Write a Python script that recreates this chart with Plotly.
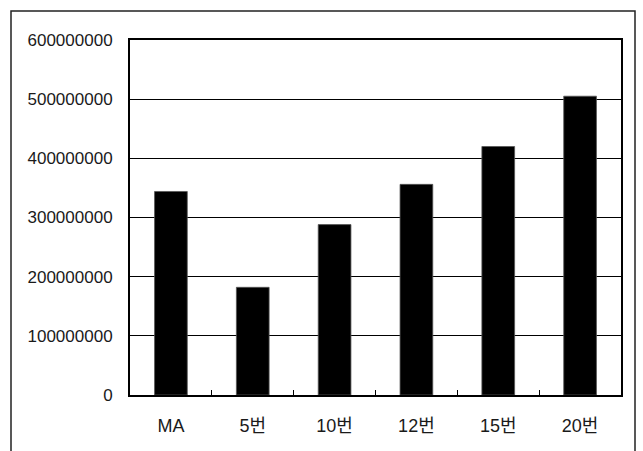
import plotly.graph_objects as go

categories = ["MA", "5번", "10번", "12번", "15번", "20번"]
values = [344000000, 182000000, 288000000, 356000000, 420000000, 505000000]
y_ticks = [0, 100000000, 200000000, 300000000, 400000000, 500000000, 600000000]

W, H = 643, 451
L, R, T, B = 130, 621, 40, 395

fig = go.Figure(go.Bar(
    x=categories, y=values,
    marker=dict(color="black", line=dict(color="#555555", width=0.8)),
    width=0.4,
))

def px(x):
    return (x - L) / (R - L)

def py(y):
    return (B - y) / (B - T)

fig.add_shape(type="rect", xref="paper", yref="paper",
              x0=px(11), x1=px(635), y0=py(470), y1=py(11),
              line=dict(color="#222222", width=1.5), layer="below")

font = dict(family="Liberation Sans, Arial, Noto Sans CJK KR", size=17, color="#1a1a1a")

fig.update_layout(
    width=W, height=H,
    margin=dict(l=L, r=W - R, t=T, b=H - B),
    paper_bgcolor="white", plot_bgcolor="white",
    showlegend=False,
    font=font,
    xaxis=dict(
        showline=True, mirror=True, linecolor="black", linewidth=2,
        ticks="inside", tickson="boundaries", ticklen=5, tickcolor="black", tickwidth=1,
        showgrid=False, ticklabelstandoff=13,
        tickfont=dict(family="Liberation Sans, Noto Sans CJK KR", size=18, color="#1a1a1a"),
    ),
    yaxis=dict(
        range=[0, 600000000], tickvals=y_ticks, tickformat="d",
        showline=True, mirror=True, linecolor="black", linewidth=2,
        ticks="inside", ticklen=4, tickcolor="black", tickwidth=1,
        showgrid=True, gridcolor="black", gridwidth=1,
        zeroline=False, ticklabelstandoff=12,
        tickfont=dict(family="Liberation Sans, Arial", size=17, color="#1a1a1a"),
    ),
)

fig.write_html("out.html")
